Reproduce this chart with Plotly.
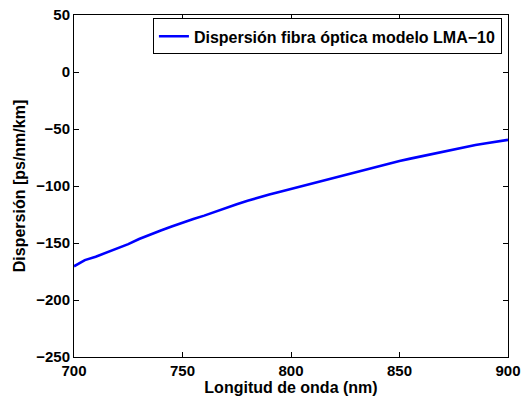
import plotly.graph_objects as go

wavelength = [700, 705, 710, 715, 720, 725, 730, 735, 740, 745, 750, 755, 760, 765, 770, 775,
              780, 785, 790, 795, 800, 805, 810, 815, 820, 825, 830, 835, 840, 845, 850, 855,
              860, 865, 870, 875, 880, 885, 890, 895, 900]
dispersion = [-170.5, -165.0, -162.0, -158.5, -155.0, -151.0, -146.5, -142.5, -139.0, -135.5,
              -132.0, -129.0, -126.0, -122.5, -119.5, -116.0, -113.0, -110.0, -107.5, -105.0,
              -102.5, -100.0, -97.5, -95.0, -92.5, -90.0, -87.5, -85.0, -82.5, -80.0,
              -78.0, -76.0, -74.0, -71.5, -69.5, -67.5, -65.5, -64.0, -62.5, -61.0, -59.5]

x_ticks = [700, 750, 800, 850, 900]
x_ticktext = ["700", "750", "800", "850", "900"]
y_ticks = [50, 0, -50, -100, -150, -200, -250]
y_ticktext = ["50", "0", "\u221250", "\u2212100", "\u2212150", "\u2212200", "\u2212250"]

series_name = "Dispersión fibra óptica modelo LMA\u221210"

font_family = "Liberation Sans, Arial, sans-serif"
tick_size = 15
text_size = 16

fig = go.Figure()
fig.add_trace(go.Scatter(
    x=wavelength, y=dispersion, mode="lines", name=series_name,
    line=dict(color="#0000ff", width=2.6),
))

axis_common = dict(
    showline=True, linecolor="black", linewidth=1, mirror="ticks",
    ticks="inside", ticklen=5, tickcolor="black", tickwidth=1,
    showgrid=False, zeroline=False, automargin=False,
    tickfont=dict(family=font_family, size=tick_size, color="black", weight="bold"),
)

fig.update_layout(
    width=522, height=402,
    margin=dict(l=74, r=14, t=15, b=45, autoexpand=False),
    paper_bgcolor="white", plot_bgcolor="white",
    font=dict(family=font_family, size=tick_size, color="black", weight="bold"),
    showlegend=True,
    legend=dict(
        x=0.986, y=0.99, xanchor="right", yanchor="top",
        bordercolor="black", borderwidth=1, bgcolor="white",
        font=dict(family=font_family, size=text_size, color="black", weight="bold"),
        itemwidth=30, tracegroupgap=0,
    ),
    xaxis=dict(
        range=[700, 900], tickvals=x_ticks, ticktext=x_ticktext,
        title=dict(text="Longitud de onda (nm)", standoff=0,
                   font=dict(family=font_family, size=text_size, weight="bold")),
        **axis_common,
    ),
    yaxis=dict(
        range=[-250, 50], tickvals=y_ticks, ticktext=y_ticktext,
        title=dict(text="Dispersión [ps/nm/km]", standoff=6,
                   font=dict(family=font_family, size=text_size, weight="bold")),
        **axis_common,
    ),
)

fig.write_html("out.html")
